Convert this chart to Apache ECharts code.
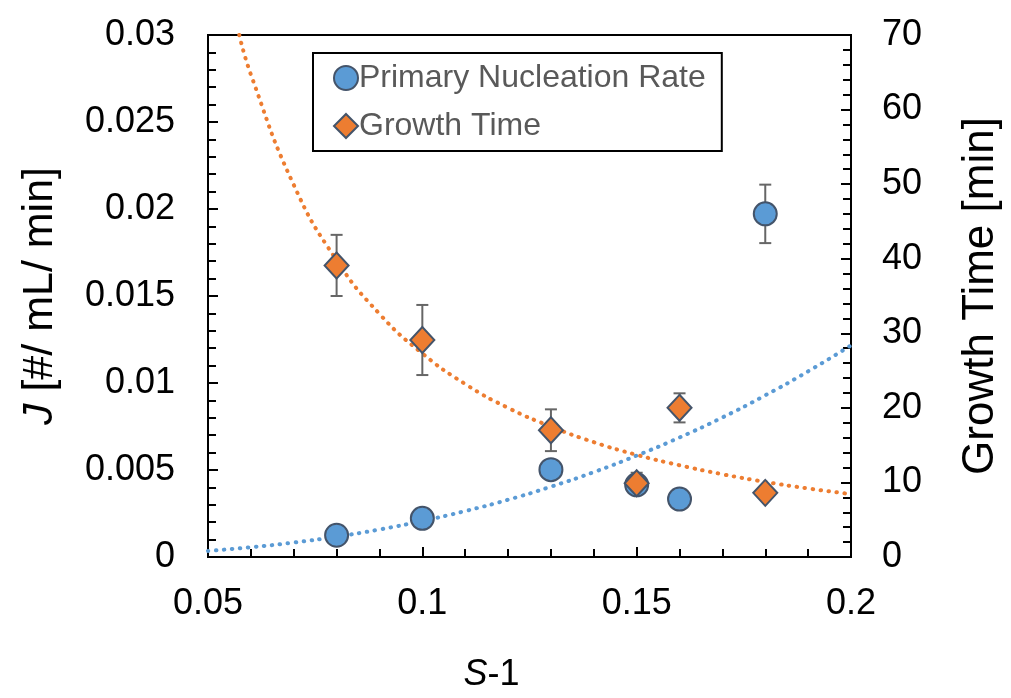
<!DOCTYPE html>
<html>
<head>
<meta charset="utf-8">
<script src="https://cdn.jsdelivr.net/npm/echarts@6/dist/echarts.min.js"></script>
<style>
html,body{margin:0;padding:0;background:#fff;overflow:hidden;}
#chart{width:1011px;height:698px;}
</style>
</head>
<body>
<div id="chart"></div>
<script>
// ---- data ----
const xValues = [0.08, 0.1, 0.13, 0.15, 0.16, 0.18];
const nucleationRate = [0.00125, 0.00222, 0.00502, 0.00415, 0.00333, 0.01972];
const nucleationErr = [0, 0, 0, 0, 0, 0.00168];
const growthTime = [39.1, 29.1, 17.0, 9.9, 20.0, 8.6];
const growthErr = [4.1, 4.7, 2.8, 1.4, 1.95, 0];

// dotted trend lines
const nucleationTrendX = [0.05, 0.06, 0.07, 0.08, 0.09, 0.10, 0.11, 0.12, 0.13, 0.14, 0.15, 0.16, 0.17, 0.18, 0.19, 0.20];
const nucleationTrendY = [0.00035, 0.00056, 0.00083, 0.00117, 0.00158, 0.00207, 0.00264, 0.00329, 0.00404, 0.00488, 0.00583, 0.00687, 0.00802, 0.00929, 0.01067, 0.01216];
const growthTrendX = [0.0573, 0.06, 0.07, 0.08, 0.09, 0.10, 0.11, 0.12, 0.13, 0.14, 0.15, 0.16, 0.17, 0.18, 0.19, 0.20];
const growthTrendY = [70, 64.7, 49.9, 39.8, 32.6, 27.3, 23.2, 20.0, 17.5, 15.4, 13.7, 12.3, 11.1, 10.07, 9.19, 8.43];

const xTickLabels = ['0.05', '0.1', '0.15', '0.2'];

const BLUE = '#5B9BD5';
const ORANGE = '#ED7D31';
const EDGE = '#44546A';
const FONT = '"Liberation Sans", Arial, sans-serif';

function pairs(xs, ys) { return xs.map((x, i) => [x, ys[i]]); }
function triples(xs, ys, es) { return xs.map((x, i) => [x, ys[i], es[i]]); }

function errorRender(params, api) {
  const x = api.value(0), y = api.value(1), e = api.value(2);
  if (!e) return null;
  const top = api.coord([x, y + e]);
  const bot = api.coord([x, y - e]);
  const hw = 6;
  const st = { stroke: '#666666', lineWidth: 2 };
  return {
    type: 'group',
    children: [
      { type: 'line', shape: { x1: top[0], y1: top[1], x2: bot[0], y2: bot[1] }, style: st },
      { type: 'line', shape: { x1: top[0] - hw, y1: top[1], x2: top[0] + hw, y2: top[1] }, style: st },
      { type: 'line', shape: { x1: bot[0] - hw, y1: bot[1], x2: bot[0] + hw, y2: bot[1] }, style: st }
    ]
  };
}

const chart = echarts.init(document.getElementById('chart'), null, { renderer: 'canvas' });

const axisLineStyle = { color: '#000', width: 2 };

chart.setOption({
  animation: false,
  backgroundColor: '#fff',
  textStyle: { fontFamily: FONT },
  grid: { left: 208, right: 149, top: 35, bottom: 135, show: true, borderColor: '#000', borderWidth: 2, containLabel: false },
  legend: {
    data: ['Primary Nucleation Rate', 'Growth Time'],
    orient: 'vertical',
    left: 313,
    top: 53,
    padding: [9, 16, 9, 20],
    itemGap: 16,
    itemWidth: 24,
    itemHeight: 24,
    borderColor: '#000',
    borderWidth: 2,
    backgroundColor: '#fff',
    textStyle: { fontFamily: FONT, fontSize: 32, color: '#595959', padding: [0, 0, 0, -4] }
  },
  xAxis: {
    type: 'value',
    min: 0.05, max: 0.2, interval: 0.05,
    axisLine: { lineStyle: axisLineStyle },
    axisTick: { inside: true, length: 10, lineStyle: { color: '#000', width: 2 } },
    minorTick: { show: true, splitNumber: 5, length: 8, lineStyle: { color: '#000', width: 2 } },
    splitLine: { show: false },
    axisLabel: {
      fontSize: 36, color: '#000', fontFamily: FONT, margin: 29,
      formatter: (v) => { const s = xTickLabels.find(t => Math.abs(parseFloat(t) - v) < 1e-9); return s || ''; }
    },
    name: '{it|S}-1',
    nameLocation: 'middle',
    nameGap: 100,
    nameTextStyle: {
      fontSize: 36, color: '#000', fontFamily: FONT, padding: [0, 76, 0, 0],
      rich: { it: { fontStyle: 'italic', fontSize: 36, color: '#000', fontFamily: FONT } }
    }
  },
  yAxis: [
    {
      type: 'value',
      min: 0, max: 0.03, interval: 0.005,
      position: 'left',
      axisLine: { show: true, lineStyle: axisLineStyle },
      axisTick: { inside: true, length: 10, lineStyle: { color: '#000', width: 2 } },
      minorTick: { show: true, splitNumber: 5, length: 8, lineStyle: { color: '#000', width: 2 } },
      splitLine: { show: false },
      axisLabel: { fontSize: 36, color: '#000', fontFamily: FONT, margin: 33 },
      name: '{it|J} [#/ mL/ min]',
      nameLocation: 'middle',
      nameRotate: 90,
      nameGap: 146,
      nameTextStyle: {
        fontSize: 43, color: '#000', fontFamily: FONT,
        rich: { it: { fontStyle: 'italic', fontSize: 43, color: '#000', fontFamily: FONT } }
      }
    },
    {
      type: 'value',
      min: 0, max: 70, interval: 10,
      position: 'right',
      axisLine: { show: true, lineStyle: axisLineStyle },
      axisTick: { inside: true, length: 10, lineStyle: { color: '#000', width: 2 } },
      minorTick: { show: true, splitNumber: 5, length: 8, lineStyle: { color: '#000', width: 2 } },
      splitLine: { show: false },
      axisLabel: { fontSize: 36, color: '#000', fontFamily: FONT, margin: 31 },
      name: 'Growth Time [min]',
      nameLocation: 'middle',
      nameRotate: 90,
      nameGap: 108,
      nameTextStyle: { fontSize: 44, color: '#000', fontFamily: FONT }
    }
  ],
  series: [
    {
      name: 'nucleation trend', type: 'line', yAxisIndex: 0, z: 1,
      data: pairs(nucleationTrendX, nucleationTrendY),
      smooth: true, showSymbol: false, symbol: 'none', silent: true,
      lineStyle: { color: BLUE, width: 4, type: [0.5, 7.5], cap: 'round' }
    },
    {
      name: 'growth trend', type: 'line', yAxisIndex: 1, z: 1,
      data: pairs(growthTrendX, growthTrendY),
      smooth: true, showSymbol: false, symbol: 'none', silent: true,
      lineStyle: { color: ORANGE, width: 4, type: [0.5, 7.5], cap: 'round' }
    },
    {
      name: 'nucleation err', type: 'custom', yAxisIndex: 0, z: 2,
      data: triples(xValues, nucleationRate, nucleationErr),
      encode: { x: 0, y: 1 }, renderItem: errorRender, silent: true
    },
    {
      name: 'growth err', type: 'custom', yAxisIndex: 1, z: 2,
      data: triples(xValues, growthTime, growthErr),
      encode: { x: 0, y: 1 }, renderItem: errorRender, silent: true
    },
    {
      name: 'Primary Nucleation Rate', type: 'scatter', yAxisIndex: 0, z: 3,
      data: pairs(xValues, nucleationRate),
      symbol: 'circle', symbolSize: 23,
      itemStyle: { color: BLUE, borderColor: EDGE, borderWidth: 2, opacity: 1 }
    },
    {
      name: 'Growth Time', type: 'scatter', yAxisIndex: 1, z: 4,
      data: pairs(xValues, growthTime),
      symbol: 'diamond', symbolSize: [24, 26],
      itemStyle: { color: ORANGE, borderColor: EDGE, borderWidth: 2, opacity: 1 }
    }
  ]
});
</script>
</body>
</html>
